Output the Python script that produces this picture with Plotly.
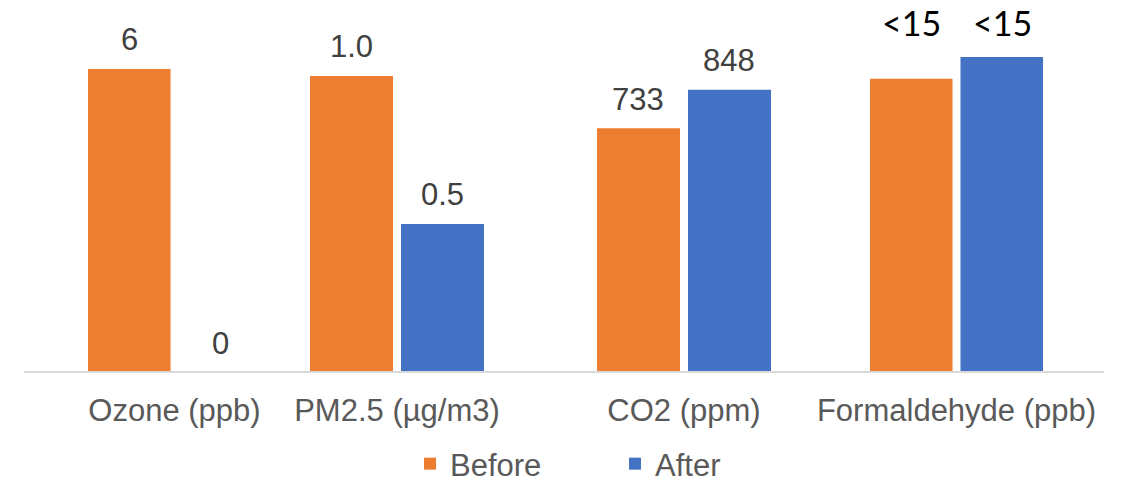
import plotly.graph_objects as go

# Each pollutant is shown on its own scale, side by side
categories = ["Ozone (ppb)", "PM2.5 (µg/m3)", "CO2 (ppm)", "Formaldehyde (ppb)"]
before = [6, 1.0, 733, 13.5]
after = [0, 0.5, 848, 14.5]
before_labels = ["6", "1.0", "733", "<15"]
after_labels = ["0", "0.5", "848", "<15"]
# values reported only as "below detection" get their labels in a shared top row
top_row_labels = [False, False, False, True]

ORANGE = "#ED7D31"
BLUE = "#4472C4"
W, H = 1132, 483
PLOT_TOP, PLOT_BOTTOM = 20, 372
BAR_SHIFT = 45.5  # px from group centre to each bar centre

# horizontal extent of each group (px) and y-axis ceiling of each panel
group_px = [(84, 265), (306, 488), (593, 775), (866, 1047)]
y_max = [6.97, 1.189, 1058, 16.2]

fig = go.Figure()
annotations = []
layout = {}

for i, cat in enumerate(categories):
    sfx = "" if i == 0 else str(i + 1)
    xa, ya = "x" + sfx, "y" + sfx
    for vals, labels, name, color, side in (
        (before, before_labels, "Before", ORANGE, -1),
        (after, after_labels, "After", BLUE, 1),
    ):
        fig.add_trace(go.Bar(
            x=[cat], y=[vals[i]], name=name, legendgroup=name,
            showlegend=(i == 0), marker_color=color, marker_line_width=0,
            xaxis=xa, yaxis=ya,
        ))
        if top_row_labels[i]:
            annotations.append(dict(
                x=cat, xref=xa, y=1.0, yref="paper", yanchor="middle",
                xshift=side * BAR_SHIFT, yshift=-2,
                text=labels[i], showarrow=False,
                font=dict(family="Lato, Carlito, sans-serif", size=34, color="#000000"),
            ))
        else:
            # value label sitting above its bar
            annotations.append(dict(
                x=cat, xref=xa, y=vals[i], yref=ya, yanchor="middle",
                xshift=side * BAR_SHIFT, yshift=29,
                text=labels[i], showarrow=False,
                font=dict(family="Liberation Sans, Arial", size=31, color="#404040"),
            ))
    x0, x1 = group_px[i]
    layout["xaxis" + sfx] = dict(
        domain=[x0 / W, x1 / W], anchor=ya, range=[-0.5, 0.5], automargin=False,
        showgrid=False, zeroline=False, showline=False,
        ticks="outside", ticklen=11, tickcolor="rgba(0,0,0,0)",
        tickfont=dict(family="Liberation Sans, Arial", size=31, color="#595959"),
        fixedrange=True,
    )
    layout["yaxis" + sfx] = dict(
        range=[0, y_max[i]], anchor=xa, visible=False, showgrid=False,
        zeroline=False, automargin=False, fixedrange=True,
    )

fig.update_layout(
    **layout,
    width=W, height=H,
    margin=dict(l=0, r=0, t=PLOT_TOP, b=H - PLOT_BOTTOM, pad=0, autoexpand=False),
    paper_bgcolor="white", plot_bgcolor="white",
    barmode="group", bargap=0, bargroupgap=0.088,
    annotations=annotations,
    shapes=[dict(type="line", xref="paper", yref="paper",
                 x0=24 / W, x1=1104 / W, y0=0, y1=0,
                 line=dict(color="#D9D9D9", width=2))],
    legend=dict(orientation="h", x=615 / W, xanchor="center",
                y=-92 / (PLOT_BOTTOM - PLOT_TOP), yanchor="middle",
                font=dict(family="Liberation Sans, Arial", size=31, color="#595959"),
                entrywidth=160, entrywidthmode="pixels", itemclick=False,
                itemdoubleclick=False),
    showlegend=True,
)

fig.write_html("out.html", config={"displayModeBar": False})
